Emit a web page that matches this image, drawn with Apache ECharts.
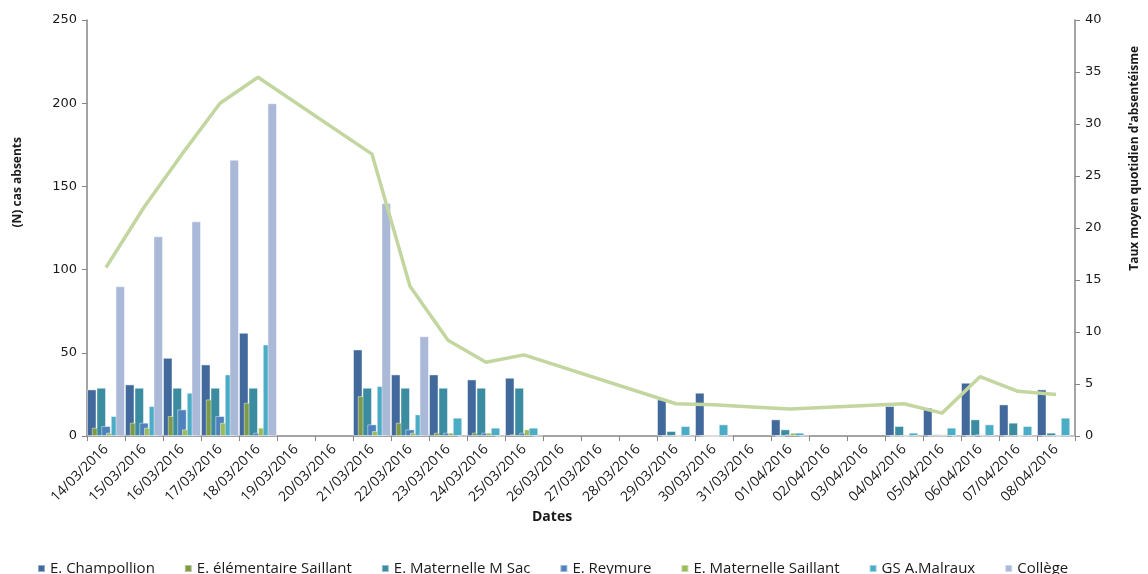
<!DOCTYPE html>
<html>
<head>
<meta charset="utf-8">
<title>Absentéisme</title>
<script src="https://cdn.jsdelivr.net/npm/echarts@6/dist/echarts.min.js"></script>
<style>
  html, body { margin: 0; padding: 0; background: #fff; }
  #chart { width: 1148px; height: 574px; }
</style>
</head>
<body>
<div id="chart"></div>
<script>
// dates (jours sans données = null)
const dates = ['14/03/2016', '15/03/2016', '16/03/2016', '17/03/2016', '18/03/2016', '19/03/2016', '20/03/2016',
  '21/03/2016', '22/03/2016', '23/03/2016', '24/03/2016', '25/03/2016', '26/03/2016', '27/03/2016', '28/03/2016',
  '29/03/2016', '30/03/2016', '31/03/2016', '01/04/2016', '02/04/2016', '03/04/2016', '04/04/2016', '05/04/2016',
  '06/04/2016', '07/04/2016', '08/04/2016']

const champollion = [28, 31, 47, 43, 62, null, null, 52, 37, 37, 34, 35, null, null, null, 22, 26, null, 10, null, null, 18, 17, 32, 19, 28]
const elemSaillant = [5, 8, 12, 22, 20, null, null, 24, 8, 2, 2, 1, null, null, null, 0, 0, null, 0, null, null, 0, 0, 0, 0, 0]
const matMSac = [29, 29, 29, 29, 29, null, null, 29, 29, 29, 29, 29, null, null, null, 3, 0, null, 4, null, null, 6, 1, 10, 8, 2]
const reymure = [6, 8, 16, 12, 2, null, null, 7, 4, 2, 2, 2, null, null, null, 0, 0, null, 1, null, null, 0, 0, 1, 0, 0]
const matSaillant = [2, 5, 4, 8, 5, null, null, 3, 2, 2, 2, 4, null, null, null, 0, 0, null, 2, null, null, 0, 1, 0, 0, 0]
const malraux = [12, 18, 26, 37, 55, null, null, 30, 13, 11, 5, 5, null, null, null, 6, 7, null, 2, null, null, 2, 5, 7, 6, 11]
const college = [90, 120, 129, 166, 200, null, null, 140, 60, 0, 0, 0, null, null, null, 0, 0, null, 0, null, null, 0, 0, 0, 0, 0]
// taux moyen quotidien (axe de droite)
const taux = [16.2, 22, 27.1, 32, 34.5, null, null, 27.1, 14.4, 9.2, 7.1, 7.8, null, null, null, 3.1, 3.0, 2.8, 2.6, null, null, 3.1, 2.2, 5.7, 4.3, 4.0]

const leftTicks = { min: 0, max: 250, interval: 50 }
const rightTicks = { min: 0, max: 40, interval: 5 }

const barSeries = [
  ['E. Champollion', champollion, '#41699c'],
  ['E. élémentaire Saillant', elemSaillant, '#7e9a46'],
  ['E. Maternelle M Sac', matMSac, '#3b8ca1'],
  ['E. Reymure', reymure, '#4f81bd'],
  ['E. Maternelle Saillant', matSaillant, '#9bbb59'],
  ['GS A.Malraux', malraux, '#4bacc6'],
  ['Collège', college, '#aab9d8']
]

const axisGray = '#868686'
const txt = '#1a1a1a'

const chart = echarts.init(document.getElementById('chart'))

const option = {
  animation: false,
  textStyle: { fontFamily: '"Open Sans", sans-serif' },
  grid: { left: 87, right: 73, top: 20, bottom: 138 },
  legend: {
    left: 32,
    bottom: -7,
    icon: 'rect',
    itemWidth: 7,
    itemHeight: 7,
    itemGap: 29,
    textStyle: { fontSize: 15, color: txt, fontFamily: '"Open Sans", sans-serif' },
    data: barSeries.map(s => s[0])
  },
  xAxis: {
    type: 'category',
    data: dates,
    axisLine: { lineStyle: { color: axisGray, width: 1.5 } },
    axisTick: { show: true, length: 5, lineStyle: { color: axisGray } },
    axisLabel: { rotate: 45, interval: 0, fontSize: 14, color: txt, margin: 11 }
  },
  yAxis: [
    {
      type: 'value',
      ...leftTicks,
      splitLine: { show: false },
      axisLine: { show: true, lineStyle: { color: axisGray, width: 1.5 } },
      axisTick: { show: true, length: 5, lineStyle: { color: axisGray } },
      axisLabel: { fontSize: 13, color: txt, fontFamily: '"DejaVu Sans", sans-serif', margin: 10 }
    },
    {
      type: 'value',
      ...rightTicks,
      splitLine: { show: false },
      axisLine: { show: true, lineStyle: { color: axisGray, width: 1.5 } },
      axisTick: { show: true, length: 5, lineStyle: { color: axisGray } },
      axisLabel: { fontSize: 13, color: txt, fontFamily: '"DejaVu Sans", sans-serif', margin: 10 }
    }
  ],
  graphic: [
    {
      type: 'text', left: 12, top: 137, rotation: Math.PI / 2,
      style: { text: '(N) cas absents', font: 'bold 12px "Open Sans", sans-serif', fill: txt }
    },
    {
      type: 'text', left: 1129, top: 46, rotation: Math.PI / 2,
      style: { text: "Taux moyen quotidien d'absentéisme", font: 'bold 12px "Open Sans", sans-serif', fill: txt }
    },
    {
      type: 'text', left: 532, top: 510,
      style: { text: 'Dates', font: 'bold 14px "Open Sans", sans-serif', fill: txt }
    }
  ],
  series: [
    ...barSeries.map(([name, values, color]) => ({
      name,
      type: 'bar',
      data: values,
      barGap: '-50%',
      barCategoryGap: '0%',
      itemStyle: { color, borderColor: 'rgba(255,255,255,0.45)', borderWidth: 1 }
    })),
    {
      name: 'Taux',
      type: 'line',
      yAxisIndex: 1,
      data: taux,
      connectNulls: true,
      showSymbol: false,
      symbol: 'none',
      lineStyle: { color: '#c3d69f', width: 3.5 },
      z: 5
    }
  ]
}

chart.setOption(option)
window.addEventListener('resize', () => chart.resize())
</script>
</body>
</html>
